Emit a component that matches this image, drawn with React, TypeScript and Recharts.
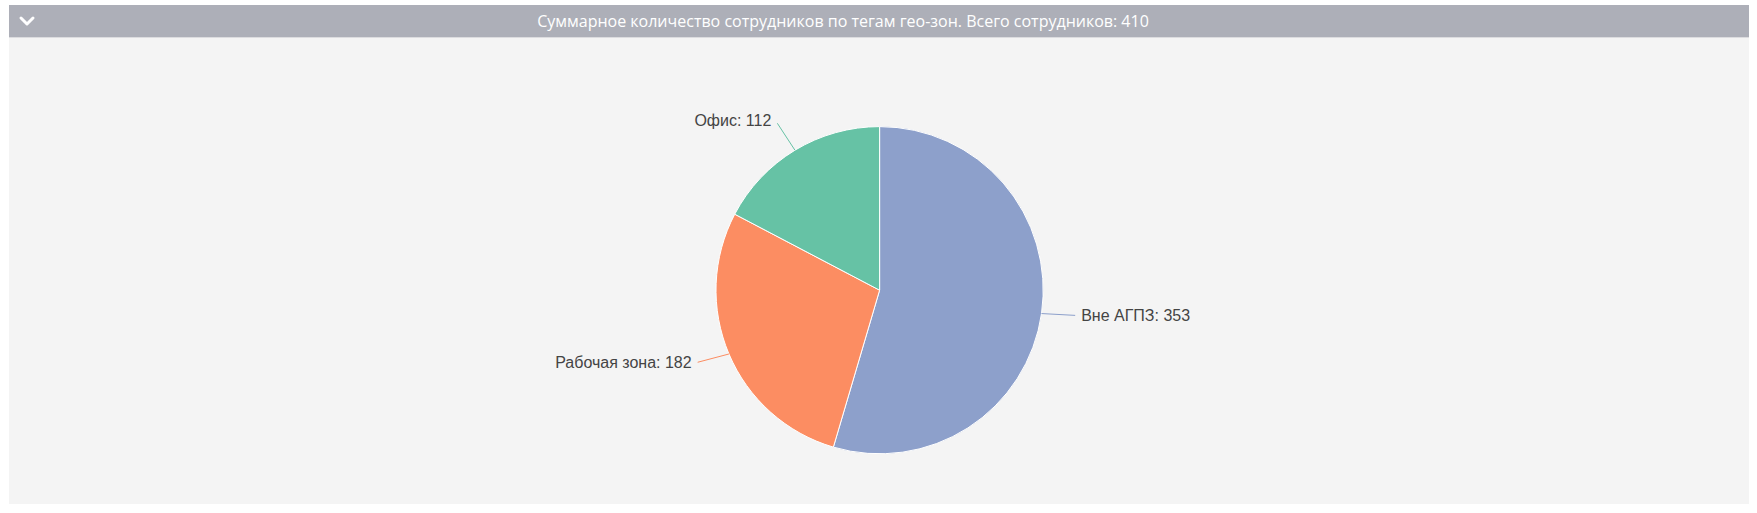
import { PieChart, Pie, Cell } from 'recharts';

// geo-zone tags and employee counts
const zoneNames = ['Вне АГПЗ', 'Рабочая зона', 'Офис'];
const zoneCounts = [353, 182, 112];
const zoneColors = ['#8da0cb', '#fc8d62', '#66c2a5'];
const totalEmployees = 410;

const pieData = zoneNames.map((name, i) => ({ name, value: zoneCounts[i] }));

const RADIAN = Math.PI / 180;
const LINE_LEN = 34;

// label with a short leader line (flattened near the horizontal, echarts-like)
const renderLabel = (props: any) => {
  const { cx, cy, midAngle, outerRadius, name, value, index } = props;
  const cos = Math.cos(-midAngle * RADIAN);
  const sin = Math.sin(-midAngle * RADIAN);
  const sx = cx + outerRadius * cos;
  const sy = cy + outerRadius * sin;
  const ex = sx + LINE_LEN * cos;
  const ey = sy + LINE_LEN * sin * Math.pow(Math.abs(sin), 0.5);
  const right = cos >= 0;
  return (
    <g>
      <path
        d={`M${sx},${sy}L${ex},${ey}`}
        stroke={zoneColors[index]}
        strokeWidth={1}
        fill="none"
      />
      <text
        x={ex + (right ? 6 : -6)}
        y={ey - (sin < -0.5 ? 3 : 0)}
        textAnchor={right ? 'start' : 'end'}
        dominantBaseline="central"
        fill="#444"
        fontSize={16}
        fontFamily="'Liberation Sans', Arial, sans-serif"
      >
        {`${name}: ${value}`}
      </text>
    </g>
  );
};

export default function App() {
  return (
    <div
      style={{
        position: 'absolute',
        left: 0,
        top: 0,
        width: 1757,
        height: 513,
        background: '#fff',
        overflow: 'hidden',
      }}
    >
      {/* panel */}
      <div
        style={{
          position: 'absolute',
          left: 9,
          top: 5,
          width: 1740,
          height: 499,
          background: '#f4f4f4',
        }}
      />
      {/* header */}
      <div
        style={{
          position: 'absolute',
          left: 9,
          top: 5,
          width: 1740,
          height: 32,
          background: '#adafb8',
          borderBottom: '1px solid #dcdcdf',
        }}
      >
        <svg width={40} height={32} style={{ position: 'absolute', left: 0, top: 0 }}>
          <polyline
            points="12,13 18,19 24,13"
            fill="none"
            stroke="#fff"
            strokeWidth={3}
            strokeLinecap="round"
            strokeLinejoin="round"
          />
        </svg>
        <div
          style={{
            position: 'absolute',
            left: 429,
            width: 810,
            top: 0,
            height: 32,
            lineHeight: '32px',
            textAlign: 'center',
            color: '#fff',
            fontFamily: "'Open Sans', sans-serif",
            fontSize: 16,
            whiteSpace: 'nowrap',
          }}
        >
          {`Суммарное количество сотрудников по тегам гео-зон. Всего сотрудников: ${totalEmployees}`}
        </div>
      </div>
      {/* chart */}
      <div style={{ position: 'absolute', left: 0, top: 0 }}>
        <PieChart width={1757} height={513} margin={{ top: 0, right: 0, bottom: 0, left: 0 }}>
          <Pie
            data={pieData}
            dataKey="value"
            nameKey="name"
            cx={879.6}
            cy={290.2}
            outerRadius={163.6}
            innerRadius={0}
            startAngle={90}
            endAngle={-270}
            stroke="#fff"
            strokeWidth={1}
            label={renderLabel}
            labelLine={false}
            isAnimationActive={false}
          >
            {pieData.map((_, i) => (
              <Cell key={i} fill={zoneColors[i]} />
            ))}
          </Pie>
        </PieChart>
      </div>
    </div>
  );
}
